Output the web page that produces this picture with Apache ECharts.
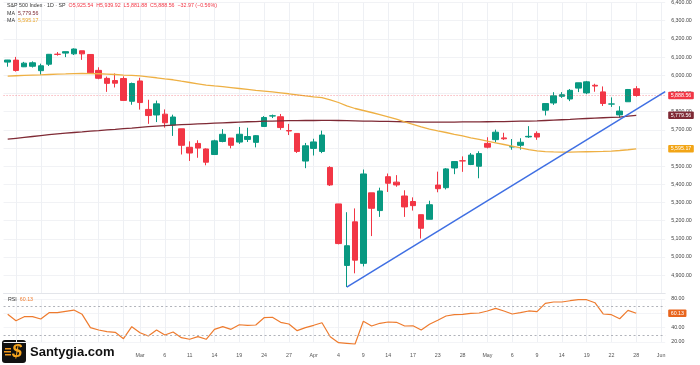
<!DOCTYPE html>
<html><head><meta charset="utf-8">
<script src="https://cdn.jsdelivr.net/npm/echarts@6/dist/echarts.min.js"></script>
<style>html,body{margin:0;padding:0;background:#fff}#c{width:700px;height:365px}</style>
</head><body><div id="c"></div>
<script>
// ---------- data ----------
const dates = ['2025-02-06','2025-02-07','2025-02-10','2025-02-11','2025-02-12','2025-02-13','2025-02-14','2025-02-18','2025-02-19','2025-02-20',
'2025-02-21','2025-02-24','2025-02-25','2025-02-26','2025-02-27','2025-02-28','2025-03-03','2025-03-04','2025-03-05','2025-03-06',
'2025-03-07','2025-03-10','2025-03-11','2025-03-12','2025-03-13','2025-03-14','2025-03-17','2025-03-18','2025-03-19','2025-03-20',
'2025-03-21','2025-03-24','2025-03-25','2025-03-26','2025-03-27','2025-03-28','2025-03-31','2025-04-01','2025-04-02','2025-04-03',
'2025-04-04','2025-04-07','2025-04-08','2025-04-09','2025-04-10','2025-04-11','2025-04-14','2025-04-15','2025-04-16','2025-04-17',
'2025-04-21','2025-04-22','2025-04-23','2025-04-24','2025-04-25','2025-04-28','2025-04-29','2025-04-30','2025-05-01','2025-05-02',
'2025-05-05','2025-05-06','2025-05-07','2025-05-08','2025-05-09','2025-05-12','2025-05-13','2025-05-14','2025-05-15','2025-05-16',
'2025-05-19','2025-05-20','2025-05-21','2025-05-22','2025-05-23','2025-05-27','2025-05-28','2025-05-29','2025-05-30','2025-06-02'];

const opens = [6072.22,6083.13,6046.40,6049.32,6025.08,6060.59,6115.52,6121.60,6117.76,6134.50,
6114.10,6026.69,5982.73,5970.87,5981.88,5856.74,5968.33,5811.98,5781.38,5785.87,
5726.01,5705.37,5603.65,5624.84,5594.45,5563.85,5635.60,5654.53,5632.37,5646.92,
5630.73,5718.08,5775.86,5771.66,5695.64,5679.86,5527.91,5597.53,5580.76,5492.74,
5292.14,4953.79,5193.57,4965.28,5353.15,5255.56,5441.96,5411.99,5335.75,5305.45,
5232.94,5207.67,5395.92,5381.38,5489.73,5529.22,5508.87,5499.44,5625.14,5645.64,
5655.32,5605.88,5614.47,5660.82,5679.94,5807.73,5847.36,5884.06,5869.22,5929.09,
5902.88,5944.66,5908.42,5841.26,5781.89,5854.07,5925.54];
const highs = [6084.03,6100.79,6073.38,6076.28,6063.62,6116.91,6127.47,6129.63,6147.43,6134.50,
6114.82,6043.65,5992.65,6009.82,5993.69,5959.40,5986.09,5865.08,5860.59,5812.08,
5783.01,5705.37,5636.30,5642.19,5597.78,5645.27,5703.52,5654.53,5715.33,5711.15,
5670.84,5775.14,5783.61,5786.95,5732.28,5681.47,5627.56,5650.57,5695.31,5499.53,
5292.14,5246.57,5267.47,5481.34,5353.15,5381.46,5459.46,5450.41,5367.24,5328.31,
5232.94,5309.60,5469.69,5489.40,5528.11,5553.66,5571.95,5581.84,5658.91,5700.70,
5683.38,5649.07,5653.37,5720.10,5691.09,5844.19,5906.63,5906.94,5924.05,5958.62,
5968.61,5953.06,5938.37,5878.08,5829.51,5924.33,5939.92];
const lows = [6046.83,6019.96,6044.84,6042.34,6003.00,6050.95,6107.62,6099.51,6111.15,6084.59,
6008.56,5977.83,5908.49,5932.69,5858.78,5837.66,5810.91,5732.59,5742.35,5711.64,
5666.29,5564.02,5528.41,5546.09,5504.65,5563.85,5631.12,5597.76,5622.20,5632.57,
5603.10,5718.08,5764.37,5699.60,5670.94,5572.42,5488.73,5558.52,5571.48,5390.83,
5069.90,4835.04,4910.42,4948.43,5115.27,5220.77,5358.02,5386.44,5220.79,5255.58,
5101.63,5207.67,5356.23,5371.96,5455.86,5468.64,5505.70,5433.24,5597.35,5631.11,
5644.10,5590.12,5590.95,5655.41,5644.73,5778.71,5836.76,5875.30,5857.47,5907.25,
5895.69,5909.26,5830.91,5825.82,5767.41,5854.07,5881.88];
const closes = [6083.57,6025.99,6066.44,6068.50,6051.97,6115.07,6114.63,6129.58,6144.15,6117.52,
6013.13,5983.25,5955.25,5956.06,5861.57,5954.50,5849.72,5778.15,5842.63,5738.52,
5770.20,5614.56,5572.07,5599.30,5521.52,5638.94,5675.12,5614.66,5675.29,5662.89,
5667.56,5767.57,5776.65,5712.20,5693.31,5580.94,5611.85,5633.07,5670.97,5396.52,
5074.08,5062.25,4982.77,5456.90,5268.05,5363.36,5405.97,5396.63,5275.70,5282.70,
5158.20,5287.76,5375.86,5484.77,5525.21,5528.75,5560.83,5569.06,5604.14,5686.67,
5650.38,5606.91,5631.28,5663.94,5659.91,5844.19,5886.55,5892.58,5916.93,5958.38,
5963.60,5940.46,5844.61,5842.01,5802.82,5921.53,5888.56];

const maSlow = [5648,5653,5658,5663,5668,5673,5677,5681,5685,5688,
5692,5695,5699,5702,5706,5709,5713,5717,5720,5723,
5726,5728,5730,5732,5734,5736,5738,5740,5742,5744,
5745,5747,5748,5749,5750,5750,5751,5751,5752,5752,
5751,5750,5749,5748,5747,5746,5746,5745,5744,5743,
5742,5742,5742,5742,5742,5743,5743,5743,5744,5745,
5745,5746,5747,5748,5749,5751,5753,5755,5757,5760,
5762,5764,5766,5768,5770,5775,5779.56];
const maFast = [5995,5997,5999,6001,6002,6004,6006,6007,6009,6010,
6009,6008,6006,6004,6001,5999,5996,5991,5986,5980,
5975,5967,5960,5953,5946,5941,5937,5932,5927,5922,
5917,5913,5908,5903,5898,5892,5886,5881,5877,5865,
5850,5831,5817,5806,5795,5783,5771,5758,5743,5730,
5716,5704,5694,5685,5675,5666,5656,5647,5637,5628,
5619,5610,5600,5591,5584,5580,5578,5577,5577,5578,
5579,5580,5581,5583,5586,5590,5595.17];
const rsi = [58.6,49.7,55.3,55.3,52.1,60.9,60.9,62.8,64.6,58.6,
40.0,36.7,34.4,33.5,24.6,41.4,33.0,28.4,36.7,29.8,
34.0,26.0,23.8,27.4,23.8,37.7,41.4,37.7,44.1,43.3,
43.7,53.9,54.5,47.5,45.1,35.8,40.0,43.3,46.9,27.4,
19.0,18.2,17.2,48.9,42.3,46.1,47.9,47.5,42.3,42.7,
36.7,44.7,50.3,56.3,58.1,58.6,60.0,60.5,63.3,67.0,
63.3,59.1,60.9,63.3,62.3,74.0,75.8,75.8,77.6,79.0,
79.0,74.8,59.1,58.1,52.5,64.2,60.13];

const tickDates = ['2025-03-03','2025-03-06','2025-03-11','2025-03-14','2025-03-19','2025-03-24','2025-03-27','2025-04-01','2025-04-04','2025-04-09','2025-04-14','2025-04-17','2025-04-23','2025-04-28','2025-05-01','2025-05-06','2025-05-09','2025-05-14','2025-05-19','2025-05-22','2025-05-28','2025-06-02'];
const tickLabels = ['Mar','6','11','14','19','24','27','Apr','4','9','14','17','23','28','May','6','9','14','19','22','28','Jun'];
const gridDates = ['2025-02-07','2025-02-12','2025-02-19','2025-02-24','2025-02-27'].concat(tickDates);

const trendStart = [41, 4835.04];
const trendEnd = [79.5, 5910];

const rsiUpper = 70, rsiLower = 30;

// ---------- helpers ----------
const fmt = v => v.toLocaleString('en-US',{minimumFractionDigits:2,maximumFractionDigits:2});
const n = closes.length - 1;
const lastClose = closes[n];
const change = closes[n] - closes[n-1];
const pct = change / closes[n-1] * 100;
const minus = '\u2212';
const sgn = v => (v < 0 ? minus : '+') + fmt(Math.abs(v));

const UP = '#089981', DOWN = '#f23645';
const SLOW_C = '#7f2a35', FAST_C = '#eeb044', RSI_C = '#ee7b2e', TREND_C = '#3f6fe3';
const FONT = 'Liberation Sans, Arial, sans-serif';
const FS = 5.3;

const candleData = dates.map((d,i) => i < closes.length ? [opens[i], closes[i], lows[i], highs[i]] : '-');
const pad = arr => dates.map((d,i) => i < arr.length ? arr[i] : '-');

const boxLabel = (bg, txt) => ({
  show: true, position: 'end', distance: 3, formatter: txt, opacity: 1,
  backgroundColor: bg, color: '#fff', fontSize: FS, fontFamily: FONT,
  padding: [1.5, 2.5, 1, 2.5], borderRadius: 1
});
const hidden = {color: 'rgba(0,0,0,0)', width: 0};

const gridLine = {color: '#eef0f4', width: 1, type: 'solid'};
const vGrid = gridDates.map(d => ({xAxis: d, lineStyle: gridLine, label: {show: false}}));

const t = FS + 'px ' + FONT;
const rich = {
  g: {fill: '#333', fontSize: FS, fontFamily: FONT},
  r: {fill: DOWN, fontSize: FS, fontFamily: FONT},
  m: {fill: SLOW_C, fontSize: FS, fontFamily: FONT},
  o: {fill: '#e9a52c', fontSize: FS, fontFamily: FONT},
  s: {fill: RSI_C, fontSize: FS, fontFamily: FONT}
};
const titleText = '{g|S&P 500 Index \u00b7 1D \u00b7 SP}  {r|O' + fmt(opens[n]) + '}  {r|H' + fmt(highs[n]) + '}  {r|L' + fmt(lows[n]) +
  '}  {r|C' + fmt(closes[n]) + '}  {r|' + sgn(change) + ' (' + (pct < 0 ? minus : '+') + Math.abs(pct).toFixed(2) + '%)}';

const chart = echarts.init(document.getElementById('c'), null, {renderer: 'canvas'});
chart.setOption({
  animation: false,
  backgroundColor: '#ffffff',
  grid: [
    {left: 3.57, right: 34.8, top: 0, height: 293.4},
    {left: 3.57, right: 34.8, top: 299, height: 43}
  ],
  xAxis: [
    {type: 'category', gridIndex: 0, data: dates, boundaryGap: true,
     axisLine: {show: true, lineStyle: {color: '#e3e5ea'}}, axisTick: {show: false}, axisLabel: {show: false}, splitLine: {show: false}},
    {type: 'category', gridIndex: 1, data: dates, boundaryGap: true,
     axisLine: {show: false}, axisTick: {show: false}, splitLine: {show: false},
     axisLabel: {show: true, interval: (i, v) => tickDates.includes(v),
       formatter: v => { const k = tickDates.indexOf(v); return k >= 0 ? tickLabels[k] : ''; },
       color: '#555', fontSize: FS, fontFamily: FONT, margin: 11}},
    {type: 'value', gridIndex: 0, min: -0.5, max: 79.5, show: false}
  ],
  yAxis: [
    {type: 'value', gridIndex: 0, position: 'right', min: 4800, max: 6400, interval: 100,
     axisLine: {show: false}, axisTick: {show: false},
     axisLabel: {color: '#444', fontSize: FS, fontFamily: FONT, margin: 6, formatter: v => v === 4800 ? '' : fmt(v)},
     splitLine: {lineStyle: {color: '#f1f2f5', width: 1}}},
    {type: 'value', gridIndex: 1, position: 'right', min: 20, max: 80, interval: 20,
     axisLine: {show: false}, axisTick: {show: false},
     axisLabel: {color: '#444', fontSize: FS, fontFamily: FONT, margin: 6, formatter: v => fmt(v)},
     splitLine: {lineStyle: {color: '#f3f4f7', width: 1}}}
  ],
  series: [
    {type: 'line', name: 'grid-main', xAxisIndex: 0, yAxisIndex: 0, data: pad([]), symbol: 'none', z: 0, silent: true,
     markLine: {silent: true, symbol: 'none', animation: false, z: 0, data: vGrid}},
    {type: 'line', name: 'grid-rsi', xAxisIndex: 1, yAxisIndex: 1, data: pad([]), symbol: 'none', z: 0, silent: true,
     markLine: {silent: true, symbol: 'none', animation: false, z: 0, data: vGrid}},
    {type: 'candlestick', xAxisIndex: 0, yAxisIndex: 0, data: candleData, barWidth: 6, z: 2,
     itemStyle: {color: UP, color0: DOWN, borderColor: UP, borderColor0: DOWN, borderWidth: 1},
     markLine: {silent: true, symbol: 'none', animation: false,
       data: [{yAxis: lastClose, lineStyle: {color: 'rgba(242,54,69,0.5)', width: 1, type: [1, 2]},
         label: boxLabel(DOWN, fmt(lastClose))}]}},
    {type: 'line', name: 'MA slow', xAxisIndex: 0, yAxisIndex: 0, data: pad(maSlow), symbol: 'none',
     lineStyle: {color: SLOW_C, width: 1.3}, z: 3,
     markLine: {silent: true, symbol: 'none', data: [{yAxis: maSlow[n], lineStyle: hidden, label: boxLabel(SLOW_C, fmt(maSlow[n]))}]}},
    {type: 'line', name: 'MA fast', xAxisIndex: 0, yAxisIndex: 0, data: pad(maFast), symbol: 'none',
     lineStyle: {color: FAST_C, width: 1.3}, z: 3,
     markLine: {silent: true, symbol: 'none', data: [{yAxis: maFast[n], lineStyle: hidden, label: boxLabel('#f2a516', fmt(maFast[n]))}]}},
    {type: 'line', name: 'Trend', xAxisIndex: 2, yAxisIndex: 0, data: [trendStart, trendEnd], symbol: 'none',
     lineStyle: {color: TREND_C, width: 1.5}, z: 4},
    {type: 'line', name: 'RSI', xAxisIndex: 1, yAxisIndex: 1, data: pad(rsi), symbol: 'none', clip: false,
     lineStyle: {color: RSI_C, width: 1.2}, z: 3,
     markLine: {silent: true, symbol: 'none', animation: false,
       data: [
         {yAxis: rsiUpper, lineStyle: {color: '#b0b3ba', width: 1, type: [2, 2.5]}, label: {show: false}},
         {yAxis: rsiLower, lineStyle: {color: '#b0b3ba', width: 1, type: [2, 2.5]}, label: {show: false}},
         {yAxis: rsi[n], lineStyle: hidden, label: boxLabel('#e8651d', fmt(rsi[n]))}
       ]}}
  ],
  graphic: [
    {type: 'text', left: 7, top: 3.5, z: 10, style: {text: titleText, rich: rich, font: t}},
    {type: 'text', left: 7, top: 11, z: 10, style: {text: '{g|MA}  {m|' + fmt(maSlow[n]) + '}', rich: rich, font: t}},
    {type: 'text', left: 7, top: 18.5, z: 10, style: {text: '{g|MA}  {o|' + fmt(maFast[n]) + '}', rich: rich, font: t}},
    {type: 'text', left: 8, top: 297.5, z: 10, style: {text: '{g|RSI}  {s|' + fmt(rsi[n]) + '}', rich: rich, font: t}},
    {type: 'group', left: 2, top: 340, z: 20, children: [
      {type: 'rect', shape: {x: 0, y: 0, width: 24, height: 23, r: 3}, style: {fill: '#111'}},
      {type: 'rect', shape: {x: 3, y: 8, width: 6, height: 1.5}, style: {fill: '#f39a1e'}},
      {type: 'rect', shape: {x: 2, y: 11, width: 7, height: 1.5}, style: {fill: '#f39a1e'}},
      {type: 'rect', shape: {x: 3, y: 14, width: 6, height: 1.5}, style: {fill: '#f39a1e'}},
      {type: 'text', style: {x: 15, y: 12, text: '$', fill: '#f7a51f', font: 'italic bold 18px Liberation Sans, Arial', textAlign: 'center', textVerticalAlign: 'middle'}},
      {type: 'text', style: {x: 28, y: 12, text: 'Santygia.com', fill: '#111', font: 'bold 13px Liberation Sans, Arial', textVerticalAlign: 'middle'}}
    ]}
  ]
});
</script>
</body></html>
